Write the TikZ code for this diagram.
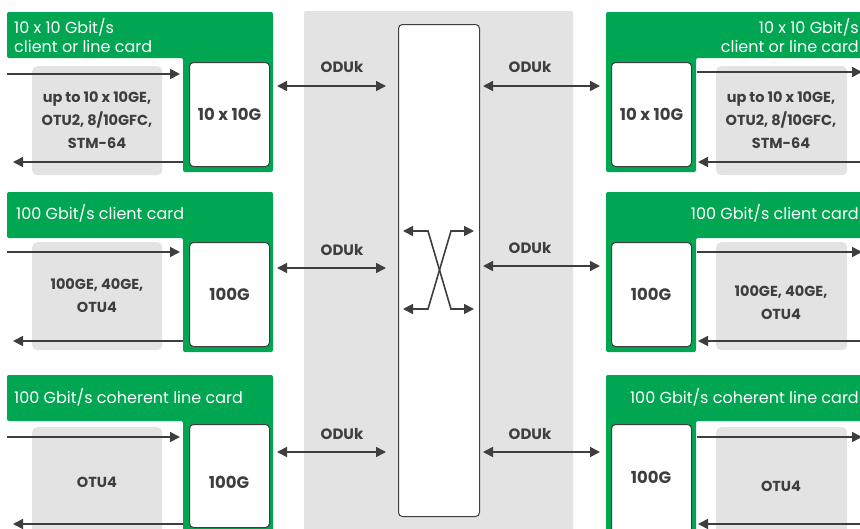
\documentclass[tikz,border=0pt]{standalone}
\usepackage{fontspec}
\setmainfont{Poppins}
\usetikzlibrary{arrows.meta}
\definecolor{cgreen}{RGB}{0,166,81}
\definecolor{cgray}{RGB}{227,227,227}
\definecolor{cdark}{RGB}{62,62,62}
\begin{document}
\begin{tikzpicture}[x=1pt,y=-1pt,
  greencard/.style={fill=cgreen,rounded corners=2pt},
  graybox/.style={fill=cgray,rounded corners=5pt},
  portbox/.style={draw=cdark,line width=1pt,fill=white,rounded corners=4pt},
  arr/.style={draw=cdark,line width=1.6pt,-{Triangle[length=10pt,width=10pt]}},
  arrb/.style={draw=cdark,line width=1.6pt,{Triangle[length=10pt,width=10pt]}-{Triangle[length=10pt,width=10pt]}},
  hdr/.style={text=white,font=\fontsize{16}{19}\selectfont,inner sep=0pt},
  lbl/.style={text=cdark,font=\fontsize{14.5}{23}\selectfont\bfseries,align=center,inner sep=0pt},
  plbl/.style={text=cdark,font=\fontsize{16.5}{18}\selectfont\bfseries,align=center,inner sep=0pt},
  oduk/.style={text=cdark,font=\fontsize{15}{16}\selectfont\bfseries,inner sep=0pt}]
\clip (0,0) rectangle (860,528);
\fill[white] (0,0) rectangle (860,528);
% central switch
\fill[cgray,rounded corners=2pt] (304,11) rectangle (573,545);
\node[portbox,minimum width=81pt,minimum height=492pt,anchor=north west] (sw) at (398,24) {};
\draw[arrb] (403,231) -- (428,231) -- (451,309) -- (474,309);
\draw[arrb] (403,309) -- (428,309) -- (451,231) -- (474,231);

% ---------- left cards ----------
% card 1
\fill[greencard] (7,12) -- (273,12) -- (273,172) -- (183,172) -- (183,58) -- (7,58) -- cycle;
\node[hdr,anchor=west,align=left] (lh1) at (14,36) {10 x 10 Gbit/s\\client or line card};
\node[graybox,minimum width=130pt,minimum height=109pt,anchor=north west] (lg1) at (32,66) {};
\node[lbl] (lt1) at (97,120) {up to 10 x 10GE,\\OTU2, 8/10GFC,\\STM-64};
\node[portbox,minimum width=80pt,minimum height=104pt,anchor=north west] (lp1) at (189,62) {};
\node[plbl] at (lp1) {10 x 10G};
\coordinate (li1) at (7,74); \coordinate (lo1) at (13,162);
\draw[arr] (li1) -- ([xshift=-9pt]lp1.west |- li1);
\draw[arr] ([xshift=-6pt]lp1.west |- lo1) -- (lo1);
% card 2
\fill[greencard] (7,192) -- (273,192) -- (273,352) -- (183,352) -- (183,238) -- (7,238) -- cycle;
\node[hdr,anchor=west] (lh2) at (16,213) {100 Gbit/s client card};
\node[graybox,minimum width=130pt,minimum height=108pt,anchor=north west] (lg2) at (32,242) {};
\node[lbl] (lt2) at (97,296) {100GE, 40GE,\\OTU4};
\node[portbox,minimum width=80pt,minimum height=104pt,anchor=north west] (lp2) at (189,242) {};
\node[plbl] at (lp2) {100G};
\coordinate (li2) at (7,252); \coordinate (lo2) at (13,341);
\draw[arr] (li2) -- ([xshift=-9pt]lp2.west |- li2);
\draw[arr] ([xshift=-6pt]lp2.west |- lo2) -- (lo2);
% card 3
\fill[greencard] (7,375) -- (273,375) -- (273,545) -- (183,545) -- (183,421) -- (7,421) -- cycle;
\node[hdr,anchor=west] (lh3) at (14,397) {100 Gbit/s coherent line card};
\node[graybox,minimum width=130pt,minimum height=120pt,anchor=north west] (lg3) at (32,427) {};
\node[lbl] (lt3) at (97,482) {OTU4};
\node[portbox,minimum width=80pt,minimum height=103pt,anchor=north west] (lp3) at (189,424) {};
\node[plbl] at (189+40,482) {100G};
\coordinate (li3) at (7,437); \coordinate (lo3) at (13,524);
\draw[arr] (li3) -- ([xshift=-9pt]lp3.west |- li3);
\draw[arr] ([xshift=-6pt]lp3.west |- lo3) -- (lo3);

% ---------- right cards ----------
% card 1
\fill[greencard] (606,12) -- (870,12) -- (870,58) -- (696,58) -- (696,172) -- (606,172) -- cycle;
\node[hdr,anchor=east,align=right] (rh1) at (859,36) {10 x 10 Gbit/s\hspace{4pt}\\client or line card};
\node[graybox,minimum width=131pt,minimum height=109pt,anchor=north west] (rg1) at (716,66) {};
\node[lbl] (rt1) at (781,120) {up to 10 x 10GE,\\OTU2, 8/10GFC,\\STM-64};
\node[portbox,minimum width=80pt,minimum height=104pt,anchor=north west] (rp1) at (611,62) {};
\node[plbl] at (rp1) {10 x 10G};
\coordinate (ri1) at (862,72); \coordinate (ro1) at (866,162);
\draw[arr] ([xshift=5pt]rp1.east |- ri1) -- (ri1);
\draw[arr] (ro1) -- ([xshift=6pt]rp1.east |- ro1);
% card 2
\fill[greencard] (606,192) -- (870,192) -- (870,238) -- (696,238) -- (696,352) -- (606,352) -- cycle;
\node[hdr,anchor=east] (rh2) at (859,213) {100 Gbit/s client card};
\node[graybox,minimum width=131pt,minimum height=108pt,anchor=north west] (rg2) at (716,242) {};
\node[lbl] (rt2) at (781,303) {100GE, 40GE,\\OTU4};
\node[portbox,minimum width=80pt,minimum height=104pt,anchor=north west] (rp2) at (611,242) {};
\node[plbl] at (651,294) {100G};
\coordinate (ri2) at (862,252); \coordinate (ro2) at (866,341);
\draw[arr] ([xshift=5pt]rp2.east |- ri2) -- (ri2);
\draw[arr] (ro2) -- ([xshift=6pt]rp2.east |- ro2);
% card 3
\fill[greencard] (606,375) -- (870,375) -- (870,421) -- (696,421) -- (696,545) -- (606,545) -- cycle;
\node[hdr,anchor=east] (rh3) at (859,397) {100 Gbit/s coherent line card};
\node[graybox,minimum width=131pt,minimum height=120pt,anchor=north west] (rg3) at (716,427) {};
\node[lbl] (rt3) at (781,486) {OTU4};
\node[portbox,minimum width=80pt,minimum height=110pt,anchor=north west] (rp3) at (611,424) {};
\node[plbl] at (651,477) {100G};
\coordinate (ri3) at (862,437); \coordinate (ro3) at (866,524);
\draw[arr] ([xshift=5pt]rp3.east |- ri3) -- (ri3);
\draw[arr] (ro3) -- ([xshift=6pt]rp3.east |- ro3);

% ---------- ODUk links ----------
\foreach \i/\y/\ly in {1/86/67, 2/268/250, 3/452/434} {
  \coordinate (la\i) at (277,\y); \coordinate (lb\i) at (386,\y);
  \draw[arrb] (la\i) -- (lb\i);
  \node[oduk] (lod\i) at (342,\ly) {ODUk};
}
\foreach \i/\y/\ly in {1/86/67, 2/266/248, 3/452/434} {
  \coordinate (ra\i) at (483,\y); \coordinate (rb\i) at (600,\y);
  \draw[arrb] (ra\i) -- (rb\i);
  \node[oduk] (rod\i) at (530,\ly) {ODUk};
}
\end{tikzpicture}
\end{document}
